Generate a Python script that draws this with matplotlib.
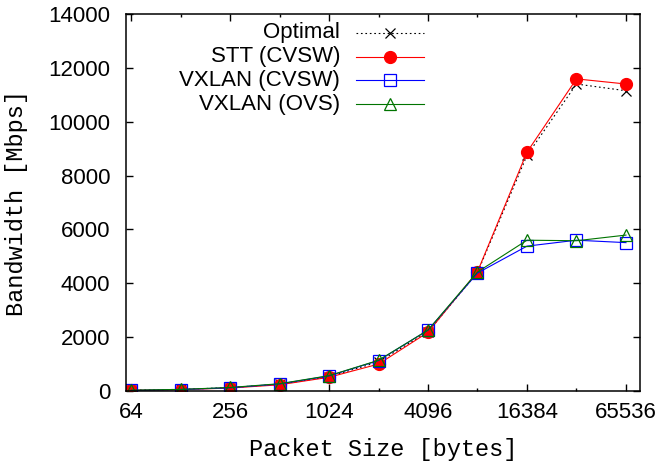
import numpy as np
import matplotlib
matplotlib.use("Agg")
import matplotlib.pyplot as plt
from matplotlib.ticker import FixedLocator, NullFormatter, FixedFormatter

# packet sizes [bytes] and measured bandwidth [Mbps]
sizes = [64, 128, 256, 512, 1024, 2048, 4096, 8192, 16384, 32768, 65536]
optimal = [30, 60, 125, 250, 530, 1080, 2200, 4400, 8750, 11400, 11150]
stt_cvsw = [25, 50, 110, 230, 510, 1000, 2180, 4430, 8870, 11590, 11400]
vxlan_cvsw = [20, 55, 120, 260, 560, 1130, 2260, 4380, 5380, 5600, 5510]
vxlan_ovs = [30, 60, 130, 270, 570, 1140, 2260, 4420, 5600, 5580, 5790]

major_x = [64, 256, 1024, 4096, 16384, 65536]
minor_x = [128, 512, 2048, 8192, 32768]
y_ticks = [0, 2000, 4000, 6000, 8000, 10000, 12000, 14000]

series = [
    ("Optimal", optimal, dict(color="black", ls=(0, (1.5, 2.5)), marker="x", ms=7, mew=0.9)),
    ("STT (CVSW)", stt_cvsw, dict(color="#ff0000", ls="-", marker="o", ms=8.6, mfc="#ff0000", mew=0.9)),
    ("VXLAN (CVSW)", vxlan_cvsw, dict(color="#0000ff", ls="-", marker="s", ms=8.2, mfc="none", mew=0.9)),
    ("VXLAN (OVS)", vxlan_ovs, dict(color="#007400", ls="-", marker="^", ms=8.5, mfc="none", mew=0.9)),
]

sans = "Liberation Sans"
mono = "Liberation Mono"

fig = plt.figure(figsize=(6.63, 4.66), dpi=100)
ax = fig.add_axes((125.7 / 663, 75 / 466, 514.3 / 663, 377 / 466))

for label, vals, style in series:
    ax.plot(sizes, vals, lw=0.8, **style)

ax.set_xscale("log", base=2)
ax.set_xlim(59.4, 79760)
ax.set_ylim(0, 14000)

ax.xaxis.set_major_locator(FixedLocator(major_x))
ax.xaxis.set_major_formatter(FixedFormatter([str(v) for v in major_x]))
ax.xaxis.set_minor_locator(FixedLocator(minor_x))
ax.xaxis.set_minor_formatter(NullFormatter())
ax.set_yticks(y_ticks)
ax.set_yticklabels([str(v) for v in y_ticks])

for s in ax.spines.values():
    s.set_linewidth(1.1)
ax.tick_params(which="both", direction="in", top=True, right=True, width=1.0,
               labelsize=16, labelfontfamily=sans)
ax.tick_params(which="major", length=5)
ax.tick_params(which="minor", length=2.5)
ax.tick_params(axis="y", pad=11)
ax.tick_params(axis="x", pad=8)

ax.set_xlabel("Packet Size [bytes]", fontfamily=mono, fontsize=17)
ax.set_ylabel("Bandwidth [Mbps]", fontfamily=mono, fontsize=17)
ax.xaxis.label.set_va("center")
ax.yaxis.label.set_va("center")
ax.xaxis.set_label_coords(0.5, -0.154)
ax.yaxis.set_label_coords(-0.213, 0.5)

# gnuplot-style key: right aligned text, sample to the right
key_rows = [0.950, 0.886, 0.824, 0.761]
for (label, vals, style), yk in zip(series, key_rows):
    ax.text(0.4167, yk, label, transform=ax.transAxes, ha="right", va="center",
            fontfamily=sans, fontsize=16)
    line_style = {k: v for k, v in style.items() if k not in ("marker", "ms", "mfc", "mew")}
    ax.plot([0.448, 0.580], [yk, yk], transform=ax.transAxes, lw=0.8, clip_on=False, **line_style)
    ax.plot([0.514], [yk], transform=ax.transAxes, ls="none", clip_on=False,
            color=style["color"], marker=style["marker"], ms=style["ms"],
            mfc=style.get("mfc", style["color"]), mew=style["mew"])

fig.savefig("out.png", dpi=100)
